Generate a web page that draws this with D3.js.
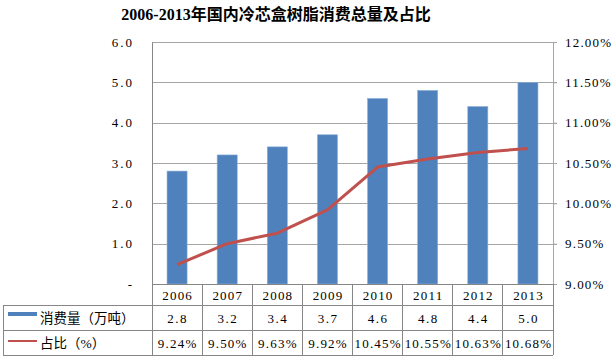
<!DOCTYPE html>
<html><head><meta charset="utf-8">
<script src="https://cdn.jsdelivr.net/npm/d3@7"></script>
<style>
body{margin:0;background:#fff;}
text{font-family:"Liberation Serif","Noto Sans CJK SC",serif;fill:#000;}
</style></head>
<body><svg id="c" width="614" height="357"></svg>
<script>
const years = ["2006","2007","2008","2009","2010","2011","2012","2013"];
const consumption = [2.8,3.2,3.4,3.7,4.6,4.8,4.4,5.0];
const share = [9.24,9.50,9.63,9.92,10.45,10.55,10.63,10.68];
const leftTicks = [0,1,2,3,4,5,6];
const rightTicks = [9.0,9.5,10.0,10.5,11.0,11.5,12.0];
const title = "2006-2013年国内冷芯盒树脂消费总量及占比";
const seriesNames = ["消费量（万吨）","占比（%）"];

const svg = d3.select("#c");
const L = 152, R = 553, T = 42, B = 284;
const x = d3.scaleBand().domain(years).range([L, R]);
const yL = d3.scaleLinear().domain([0,6]).range([B, T]);
const yR = d3.scaleLinear().domain([9,12]).range([B, T]);

svg.append("text").attr("x", 276).attr("y", 20).attr("text-anchor","middle")
  .attr("font-size", 16).attr("font-weight","bold").text(title);

// gridlines
svg.append("g").selectAll("line").data(leftTicks.filter(d=>d>0)).join("line")
  .attr("x1", L).attr("x2", R+4).attr("y1", d=>Math.round(yL(d))+0.5).attr("y2", d=>Math.round(yL(d))+0.5)
  .attr("stroke", "#a6a6a6").attr("stroke-width",1);

// bars
const bw = x.bandwidth()*0.4;
svg.append("g").selectAll("rect").data(consumption).join("rect")
  .attr("x", (d,i)=>x(years[i]) + (x.bandwidth()-bw)/2)
  .attr("width", bw)
  .attr("y", d=>yL(d)).attr("height", d=>B - yL(d))
  .attr("fill", "#4F81BD").attr("stroke","#8eb0d8").attr("stroke-width",0.6);

// line
const line = d3.line().x((d,i)=>x(years[i]) + x.bandwidth()/2).y(d=>yR(d));
svg.append("path").datum(share).attr("d", line).attr("fill","none")
  .attr("stroke","#C0504D").attr("stroke-width",3).attr("stroke-linejoin","round");

// axes
const axL = svg.append("g").attr("transform",`translate(${L},0)`)
  .call(d3.axisLeft(yL).tickValues(leftTicks).tickSize(0).tickPadding(18).tickFormat(d=> d===0 ? "-" : d3.format(".1f")(d)));
axL.select(".domain").attr("stroke","#868686");
axL.selectAll("text").attr("font-size",13).style("letter-spacing","2px");

const axR = svg.append("g").attr("transform",`translate(${R},0)`)
  .call(d3.axisRight(yR).tickValues(rightTicks).tickSize(4).tickPadding(8).tickFormat(d=>d3.format(".2f")(d)+"%"));
axR.select(".domain").attr("stroke","#a6a6a6");
axR.selectAll("line").attr("stroke","#a6a6a6");
axR.selectAll("text").attr("font-size",13).style("letter-spacing","1.2px");

// table
const tg = svg.append("g").attr("stroke","#868686").attr("stroke-width",1).attr("shape-rendering","crispEdges");
tg.append("line").attr("x1",L).attr("x2",R).attr("y1",B+0.5).attr("y2",B+0.5);
[305,330,355].forEach(yy=>tg.append("line").attr("x1",3).attr("x2",R).attr("y1",yy).attr("y2",yy));
tg.append("line").attr("x1",3).attr("x2",3).attr("y1",305).attr("y2",355);
const cols = years.map(y=>x(y)).concat([R]);
cols.forEach(c=>tg.append("line").attr("x1",c).attr("x2",c).attr("y1",B).attr("y2",355));

const cx = (i)=>x(years[i]) + x.bandwidth()/2;
svg.append("g").selectAll("text").data(years).join("text")
  .attr("x",(d,i)=>cx(i)+0.6).attr("y",300).attr("text-anchor","middle").attr("font-size",13)
  .style("letter-spacing","1.2px").text(d=>d);
svg.append("g").selectAll("text").data(consumption).join("text")
  .attr("x",(d,i)=>cx(i)+0.6).attr("y",323).attr("text-anchor","middle").attr("font-size",13)
  .style("letter-spacing","1.5px").text(d=>d3.format(".1f")(d));
svg.append("g").selectAll("text").data(share).join("text")
  .attr("x",(d,i)=>cx(i)+0.6).attr("y",348).attr("text-anchor","middle").attr("font-size",13)
  .style("letter-spacing","1.2px").text(d=>d3.format(".2f")(d)+"%");

// legend in table
svg.append("rect").attr("x",8).attr("y",312).attr("width",29).attr("height",4).attr("fill","#4F81BD");
svg.append("line").attr("x1",8).attr("x2",37).attr("y1",341).attr("y2",341).attr("stroke","#C0504D").attr("stroke-width",2);
svg.append("text").attr("x",40).attr("y",323).attr("font-size",13.5).text(seriesNames[0]);
svg.append("text").attr("x",40).attr("y",348).attr("font-size",13.5).text(seriesNames[1]);
</script></body></html>
